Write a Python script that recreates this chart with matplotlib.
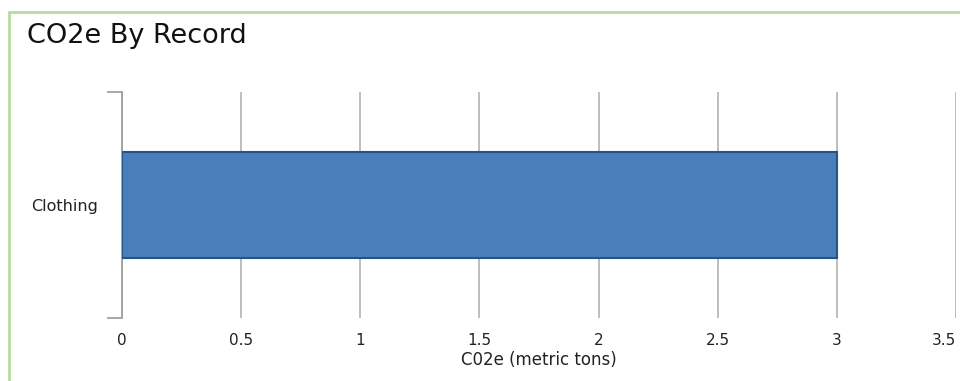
import matplotlib
matplotlib.use("Agg")
import matplotlib.pyplot as plt
from matplotlib.patches import Rectangle

# ============================================================
# DATA
# ============================================================

categories = ["Clothing"]
values = [3.0]
x_ticks = [0, 0.5, 1, 1.5, 2, 2.5, 3, 3.5]
x_tick_labels = ["0", "0.5", "1", "1.5", "2", "2.5", "3", "3.5"]

TITLE = "CO2e By Record"
X_LABEL = "C02e (metric tons)"

BAR_COLOR = "#4a7ebb"
BAR_EDGE = "#1f5686"
GRID_COLOR = "#b3b3b3"
FRAME_COLOR = "#b5dca0"

# ============================================================
# PLOT
# ============================================================

fig = plt.figure(figsize=(9.6, 3.81), dpi=100)
ax = fig.add_axes([122 / 960, 1 - 318 / 381, (956 - 122) / 960, (318 - 92) / 381])

ypos = list(range(len(categories)))
ax.barh(ypos, values, height=0.47, color=BAR_COLOR, edgecolor=BAR_EDGE,
        linewidth=1.5, zorder=3)

ax.set_xlim(0, 3.5)
ax.set_ylim(-0.5, 0.5)

ax.set_xticks(x_ticks)
ax.set_xticklabels(x_tick_labels, fontsize=11, color="#222222")
ax.get_xticklabels()[-1].set_ha("right")
ax.tick_params(axis="x", length=0, pad=11)
ax.xaxis.grid(True, color=GRID_COLOR, linewidth=1.2, zorder=0)
ax.set_xlabel(X_LABEL, fontsize=12, color="#222222", labelpad=2)

ax.set_yticks(ypos)
ax.set_yticklabels(categories, fontsize=11.5, color="#222222")
ax.set_yticks([-0.5, 0.5], minor=True)
ax.tick_params(axis="y", which="major", length=0, pad=17)
ax.tick_params(axis="y", which="minor", length=11, width=1.2, color="#999999")

for side in ["top", "right", "bottom"]:
    ax.spines[side].set_visible(False)
ax.spines["left"].set_color("#999999")
ax.spines["left"].set_linewidth(1.2)

fig.text(27 / 960, 1 - 36 / 381, TITLE, fontsize=19.5, va="center", ha="left",
         color="#111111")

# green frame round the panel
fig.add_artist(Rectangle((9 / 960, -0.05), 1.2, 1 - 12 / 381 + 0.05,
                         transform=fig.transFigure, fill=False,
                         edgecolor=FRAME_COLOR, linewidth=2))

fig.savefig("out.png", dpi=100)
